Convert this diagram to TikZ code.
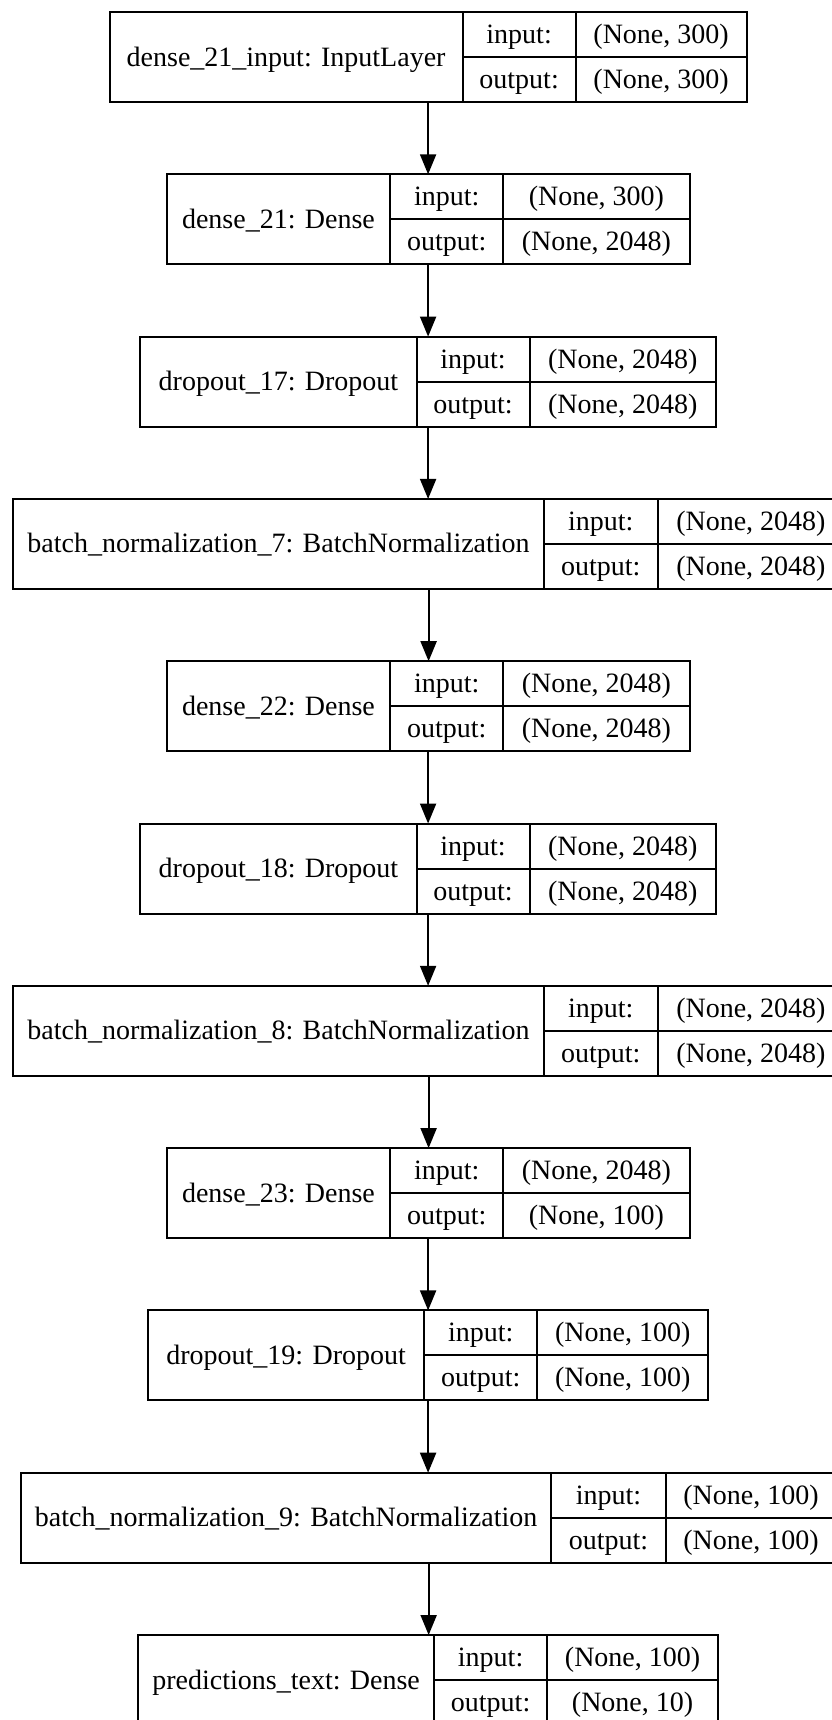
\documentclass[tikz,border=0pt]{standalone}
\usepackage{fontspec}
\setmainfont{Liberation Serif}
\usetikzlibrary{arrows.meta,fit}

% One Keras layer: name, top, left edge, label|input divider, input|shape divider, right edge,
% layer label, input shape, output shape
\newcommand\kerasnode[9]{%
  \pgfmathsetmacro\kt{#2}%
  \pgfmathsetmacro\kb{#2+90}%
  \pgfmathsetmacro\km{#2+45}%
  \pgfmathsetmacro\kup{#2+22.5+9}%
  \pgfmathsetmacro\klo{#2+67.5+9}%
  \pgfmathsetmacro\kmid{#2+45+9}%
  \node[cellbox, inner sep=0pt, outer sep=0pt, fit={(#3,\kt) (#6,\kb)}] (#1) {};
  \draw[cellbox] (#4,\kt) -- (#4,\kb) (#5,\kt) -- (#5,\kb) (#4,\km) -- (#6,\km);
  \node[txt] (#1-label) at ({(#3+#4)/2},\kmid) {#7};
  \node[txt] (#1-inkey) at ({(#4+#5)/2},\kup) {input:};
  \node[txt] (#1-outkey) at ({(#4+#5)/2},\klo) {output:};
  \node[txt] (#1-inval) at ({(#5+#6)/2},\kup) {#8};
  \node[txt] (#1-outval) at ({(#5+#6)/2},\klo) {#9};
}

\begin{document}
\begin{tikzpicture}[x=0.5pt,y=-0.5pt,
  cellbox/.style={draw=black, line width=1pt},
  txt/.style={anchor=base, inner sep=0pt, font=\fontsize{14}{16}\selectfont},
  conn/.style={draw=black, line width=1pt, -{Triangle[length=10pt,width=8pt]}}]
\useasboundingbox (0,0) rectangle (831,1720);

\kerasnode{l1}{12}{109.6}{462.6}{575.6}{746.6}{dense\_21\_input: InputLayer}{(None, 300)}{(None, 300)}
\kerasnode{l2}{174.3}{166.6}{390.3}{503.2}{689.6}{dense\_21: Dense}{(None, 300)}{(None, 2048)}
\kerasnode{l3}{336.6}{140.3}{416.6}{529.5}{715.9}{dropout\_17: Dropout}{(None, 2048)}{(None, 2048)}
\kerasnode{l4}{498.9}{13.2}{543.8}{657.8}{844}{batch\_normalization\_7: BatchNormalization}{(None, 2048)}{(None, 2048)}
\kerasnode{l5}{661.2}{166.6}{390.3}{503.2}{689.6}{dense\_22: Dense}{(None, 2048)}{(None, 2048)}
\kerasnode{l6}{823.5}{140.3}{416.6}{529.5}{715.9}{dropout\_18: Dropout}{(None, 2048)}{(None, 2048)}
\kerasnode{l7}{985.8}{13.2}{543.8}{657.8}{844}{batch\_normalization\_8: BatchNormalization}{(None, 2048)}{(None, 2048)}
\kerasnode{l8}{1148.1}{166.6}{390.3}{503.2}{689.6}{dense\_23: Dense}{(None, 2048)}{(None, 100)}
\kerasnode{l9}{1310.4}{148.0}{424.3}{537.2}{708.2}{dropout\_19: Dropout}{(None, 100)}{(None, 100)}
\kerasnode{l10}{1472.7}{20.8}{551.4}{665.5}{836.5}{batch\_normalization\_9: BatchNormalization}{(None, 100)}{(None, 100)}
\kerasnode{l11}{1635}{138.1}{434.1}{547.1}{718.1}{predictions\_text: Dense}{(None, 100)}{(None, 10)}

\foreach \a/\b in {l1/l2,l2/l3,l3/l4,l4/l5,l5/l6,l6/l7,l7/l8,l8/l9,l9/l10,l10/l11}
  \draw[conn] (\a.south) -- (\a.south |- \b.north);
\end{tikzpicture}
\end{document}
